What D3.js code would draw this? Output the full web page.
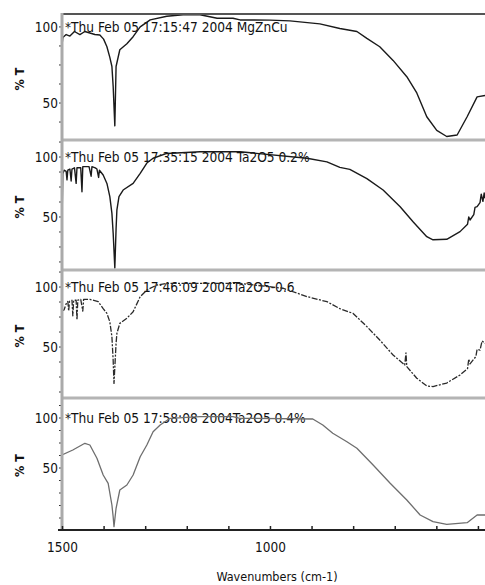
<html>
<head>
<meta charset="utf-8">
<style>
  body { margin: 0; background: #fff; }
  text { font-family: "Liberation Sans Narrow", "DejaVu Sans Condensed", "Arial Narrow", sans-serif; fill: #111; }
  .sep { stroke: #b4b4b4; stroke-width: 3px; }
  .tick line { stroke: #333; }
  .spec { fill: none; stroke-linejoin: round; }
</style>
</head>
<body>
<script src="https://cdn.jsdelivr.net/npm/d3@7"></script>
<script>

// panel titles (as printed by the spectrometer)
var titles = [
  "*Thu Feb 05 17:15:47 2004 MgZnCu",
  "*Thu Feb 05 17:35:15 2004 Ta2O5 0.2%",
  "*Thu Feb 05 17:46:09 2004Ta2O5-0.6",
  "*Thu Feb 05 17:58:08 2004Ta2O5 0.4%"
];

// y ticks shown on every panel
var yTickLabels = [100, 50];
// x ticks and labels
var xTickValues = [1500, 1400, 1300, 1200, 1100, 1000, 900, 800, 700, 600, 500];
var xTickLabels = [1500, 1000];

// spectra: [wavenumber (cm-1), %T]
var spec1 = [[1500,88],[1498,93],[1490,95],[1481,94],[1470,97],[1457,95],[1445,97],[1433,96],[1421,95],
  [1409,94.7],[1400,92],[1392,87],[1385,80],[1380,74],[1377,61],[1373,35],[1370,74],[1361,85],[1344,89],
  [1329,93.6],[1312,100],[1288,104.6],[1248,107],[1209,108],[1168,108],[1127,105.7],[1089,105.7],
  [1072,104.6],[1000,104.5],[952,104],[880,102],[832,99],[791,97],[767,92.5],[736,87],[704,78],
  [671,67.3],[647,56.6],[623,41],[599,32],[575,28],[550,29],[526,41],[502,54],[483,55]];

var spec2 = [[1500,45],[1498,86],[1495,89],[1490,88],[1488,81],[1486,89],[1481,90],[1478,80],[1476,90],
  [1470,91],[1466,78],[1464,91],[1455,91],[1452,71],[1450,92],[1440,92],[1435,92],[1430,84],[1428,92],
  [1420,91],[1416,90],[1412,83],[1410,89],[1401,85],[1392,78],[1385,67],[1380,53],[1377,36.6],[1373,7.5],
  [1370,40],[1368,56],[1363,67],[1353,72.5],[1329,78],[1312,86.4],[1296,95],[1281,99],[1248,103],
  [1168,104.4],[1089,104.4],[1072,104.4],[911,99],[863,96],[832,91.4],[808,89.7],[767,82],[728,72.5],
  [687,58.6],[656,46],[623,33.6],[608,31],[575,31.4],[543,37.8],[525,44],[522,50],[519,47.5],[510,52],
  [507,58],[502,58.6],[495,62],[492,69],[488,63],[485,70],[483,65.6]];

var spec3 = [[1500,80],[1495,81],[1490,86],[1486,88],[1484,80],[1482,88],[1476,89],[1474,76],[1472,89],
  [1466,89],[1464,72.5],[1462,89],[1455,89.7],[1450,80],[1448,89.7],[1437,89.7],[1433,89.7],[1413,87.8],
  [1401,82],[1392,78],[1385,71],[1380,58.6],[1377,39],[1375,19.7],[1370,53],[1368,61.4],[1361,69.7],
  [1344,74],[1329,79.4],[1312,92],[1296,97.5],[1272,101.7],[1248,103],[1089,103],[1072,103],[969,99],
  [911,92],[863,87.8],[832,82],[800,78],[767,67],[736,55.8],[704,43.3],[676,35],[673,45],[671,33.6],
  [647,24],[623,17.5],[608,17],[575,20],[543,26.7],[525,32],[522,40],[519,36],[505,42],[502,48],
  [495,47.5],[490,55],[483,53]];

var spec4 = [[1500,63],[1474,68],[1445,74.7],[1433,73],[1416,59.7],[1401,43],[1389,34.7],[1380,13],
  [1377,1.3],[1375,-8.7],[1370,9.7],[1361,28],[1344,33],[1329,43],[1312,61.3],[1296,73],[1281,86.3],
  [1264,93],[1240,99.7],[1168,101.3],[1089,101.3],[1072,99.7],[897,99],[873,93],[849,84.7],[815,76.3],
  [791,69.7],[752,53],[711,34.7],[671,18],[639,3],[608,-3.7],[575,-6.3],[526,-4.7],[502,3],[483,3]];

var spectra = [spec1, spec2, spec3, spec4];

// %T range visible in each panel
var yDomains = [[25.7, 108.5], [5.8, 114.2], [7.5, 114.2], [-11, 120]];

// layout
var W = 485, H = 585;
var left = 62, right = 485;
var bounds = [[14, 140], [140, 270], [270, 398], [398, 529]];
var lineStyle = [
  {stroke: "#1a1a1a", width: 1.4, dash: null},
  {stroke: "#1a1a1a", width: 1.4, dash: null},
  {stroke: "#2a2a2a", width: 1.3, dash: "6,1.5,2,1.5"},
  {stroke: "#6e6e6e", width: 1.3, dash: null}
];

var svg = d3.select("body").append("svg")
  .attr("width", W)
  .attr("height", H);

var x = d3.scaleLinear().domain([1500, 483]).range([left, right]);

var line = d3.line()
  .x(function(d) { return x(d[0]); });

spectra.forEach(function(data, i) {
  var top = bounds[i][0], bot = bounds[i][1];
  var y = d3.scaleLinear().domain(yDomains[i]).range([bot, top]);

  svg.append("clipPath").attr("id", "clip" + i)
    .append("rect").attr("x", left).attr("y", top)
    .attr("width", right - left).attr("height", bot - top);

  // minor ticks on the left axis
  var minor = d3.range(Math.ceil(yDomains[i][0] / 12.5) * 12.5, yDomains[i][1], 12.5);
  svg.append("g")
    .attr("class", "tick")
    .selectAll("line").data(minor).enter().append("line")
    .attr("x1", left - 3).attr("x2", left)
    .attr("y1", function(d) { return y(d); })
    .attr("y2", function(d) { return y(d); })
    .style("stroke-width", 1);

  // y tick labels
  svg.append("g").selectAll("text").data(yTickLabels).enter().append("text")
    .attr("x", left - 4)
    .attr("y", function(d) { return y(d); })
    .attr("dy", "0.35em")
    .style("text-anchor", "end")
    .style("font-size", "13.5px")
    .text(function(d) { return d; });

  // y label
  svg.append("text")
    .attr("transform", "translate(24," + ((top + bot) / 2 + 2) + ") rotate(-90)")
    .style("text-anchor", "middle")
    .style("font-size", "12.5px")
    .style("font-weight", "bold")
    .text("% T");

  // title
  svg.append("text")
    .attr("x", left + 3)
    .attr("y", y(100) + 5)
    .style("font-size", "13.6px")
    .text(titles[i]);

  // spectrum
  line.y(function(d) { return y(d[1]); });
  svg.append("path")
    .datum(data)
    .attr("class", "spec")
    .attr("clip-path", "url(#clip" + i + ")")
    .attr("d", line)
    .style("stroke", lineStyle[i].stroke)
    .style("stroke-width", lineStyle[i].width)
    .style("stroke-dasharray", lineStyle[i].dash);
});

// top border and panel separators
svg.append("line")
  .attr("x1", left).attr("x2", right).attr("y1", 14).attr("y2", 14)
  .style("stroke", "#555").style("stroke-width", 2);

svg.selectAll(".sep").data(bounds.slice(1)).enter().append("line")
  .attr("class", "sep")
  .attr("x1", left).attr("x2", right)
  .attr("y1", function(d) { return d[0]; })
  .attr("y2", function(d) { return d[0]; });

// left axis
svg.append("line")
  .attr("x1", left).attr("x2", left).attr("y1", 13).attr("y2", 530)
  .style("stroke", "#aaa").style("stroke-width", 3);

// bottom axis
var xAxis = d3.axisBottom(x)
  .tickValues(xTickValues)
  .tickSize(-4)
  .tickFormat(function(d) { return xTickLabels.indexOf(d) >= 0 ? d : ""; });

var gx = svg.append("g")
  .attr("transform", "translate(0,530)")
  .call(xAxis);
gx.select(".domain").remove();
gx.selectAll(".tick line").style("stroke", "#222").style("stroke-width", 1.5);
gx.selectAll(".tick text")
  .attr("y", 12)
  .style("font-family", "'Liberation Sans Narrow', 'DejaVu Sans Condensed', sans-serif")
  .style("font-size", "13.5px")
  .style("fill", "#111");

svg.append("line")
  .attr("x1", 58).attr("x2", right).attr("y1", 530).attr("y2", 530)
  .style("stroke", "#222").style("stroke-width", 2);

svg.append("text")
  .attr("x", 277)
  .attr("y", 581)
  .style("text-anchor", "middle")
  .style("font-size", "12.5px")
  .text("Wavenumbers (cm-1)");

</script>
</body>
</html>
